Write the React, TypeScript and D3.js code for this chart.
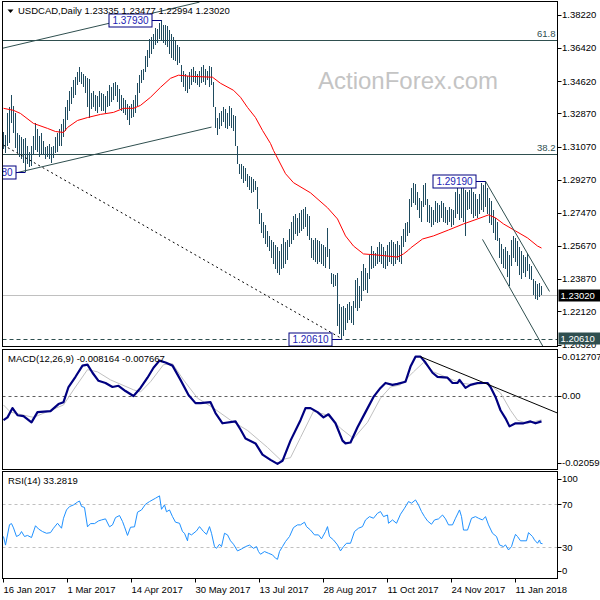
import React from "react";
import * as d3 from "d3";

// ---------- DATA ----------
const highs = [
  1.3185, 1.3170, 1.3290, 1.3320, 1.3386, 1.3330, 1.3290, 1.3180, 1.3170, 1.3160,
  1.3150, 1.3155, 1.3110, 1.3080, 1.3110, 1.3165, 1.3235, 1.3200, 1.3165, 1.3180,
  1.3140, 1.3105, 1.3110, 1.3120, 1.3105, 1.3110, 1.3160, 1.3180, 1.3200, 1.3230,
  1.3255, 1.3320, 1.3360, 1.3410, 1.3430, 1.3470, 1.3485, 1.3510, 1.3538, 1.3515,
  1.3500, 1.3490, 1.3480, 1.3475, 1.3400, 1.3410, 1.3390, 1.3380, 1.3410, 1.3400,
  1.3395, 1.3380, 1.3410, 1.3440, 1.3430, 1.3450, 1.3456, 1.3440, 1.3420, 1.3390,
  1.3370, 1.3360, 1.3340, 1.3330, 1.3340, 1.3360, 1.3390, 1.3450, 1.3495, 1.3522,
  1.3530, 1.3600, 1.3631, 1.3690, 1.3705, 1.3720, 1.3750, 1.3745, 1.3780, 1.3793,
  1.3770, 1.3765, 1.3760, 1.3740, 1.3720, 1.3700, 1.3680, 1.3660, 1.3650, 1.3550,
  1.3520, 1.3500, 1.3490, 1.3510, 1.3530, 1.3540, 1.3520, 1.3500, 1.3520, 1.3540,
  1.3550, 1.3530, 1.3520, 1.3545, 1.3540, 1.3456, 1.3320, 1.3265, 1.3290, 1.3300,
  1.3320, 1.3310, 1.3290, 1.3330, 1.3315, 1.3280, 1.3276, 1.3110, 1.3015, 1.3010,
  1.3000, 1.2990, 1.2960, 1.2950, 1.2940, 1.2930, 1.2920, 1.2890, 1.2769, 1.2747,
  1.2700, 1.2680, 1.2649, 1.2620, 1.2600, 1.2590, 1.2570, 1.2560, 1.2540, 1.2580,
  1.2610, 1.2590, 1.2600, 1.2660, 1.2700, 1.2730, 1.2740, 1.2720, 1.2745, 1.2760,
  1.2770, 1.2780, 1.2740, 1.2730, 1.2610, 1.2600, 1.2610, 1.2600, 1.2595, 1.2580,
  1.2570, 1.2560, 1.2665, 1.2550, 1.2420, 1.2415, 1.2410, 1.2420, 1.2250, 1.2235,
  1.2240, 1.2230, 1.2250, 1.2265, 1.2240, 1.2270, 1.2380, 1.2395, 1.2350, 1.2430,
  1.2470, 1.2450, 1.2420, 1.2520, 1.2567, 1.2540, 1.2530, 1.2560, 1.2590, 1.2580,
  1.2560, 1.2540, 1.2570, 1.2590, 1.2600, 1.2590, 1.2580, 1.2595, 1.2570, 1.2622,
  1.2660, 1.2690, 1.2700, 1.2824, 1.2880, 1.2911, 1.2905, 1.2860, 1.2830, 1.2810,
  1.2900, 1.2911, 1.2820, 1.2790, 1.2780, 1.2760, 1.2810, 1.2800, 1.2790, 1.2810,
  1.2800, 1.2780, 1.2760, 1.2780, 1.2770, 1.2760, 1.2860, 1.2884, 1.2850, 1.2880,
  1.2895, 1.2870, 1.2860, 1.2870, 1.2880, 1.2860, 1.2850, 1.2820, 1.2850, 1.2911,
  1.2900, 1.2919, 1.2880, 1.2830, 1.2810, 1.2760, 1.2720, 1.2700, 1.2610, 1.2580,
  1.2551, 1.2560, 1.2540, 1.2520, 1.2600, 1.2622, 1.2610, 1.2595, 1.2560, 1.2540,
  1.2520, 1.2510, 1.2530, 1.2470, 1.2460, 1.2390, 1.2375, 1.2360, 1.2365, 1.2348,
];

const lows = [
  1.3095, 1.3075, 1.3110, 1.3125, 1.3233, 1.3180, 1.3100, 1.3070, 1.3050, 1.3040,
  1.3020, 1.2968, 1.3010, 1.2995, 1.3000, 1.3060, 1.3090, 1.3080, 1.3050, 1.3060,
  1.3060, 1.3040, 1.3050, 1.3040, 1.3020, 1.3045, 1.3070, 1.3080, 1.3110, 1.3110,
  1.3160, 1.3190, 1.3250, 1.3300, 1.3340, 1.3370, 1.3390, 1.3440, 1.3460, 1.3445,
  1.3430, 1.3400, 1.3320, 1.3265, 1.3310, 1.3320, 1.3300, 1.3290, 1.3320, 1.3300,
  1.3300, 1.3290, 1.3320, 1.3330, 1.3350, 1.3360, 1.3380, 1.3350, 1.3310, 1.3300,
  1.3290, 1.3280, 1.3250, 1.3222, 1.3260, 1.3270, 1.3290, 1.3330, 1.3400, 1.3450,
  1.3470, 1.3510, 1.3540, 1.3590, 1.3610, 1.3640, 1.3660, 1.3670, 1.3690, 1.3680,
  1.3670, 1.3660, 1.3650, 1.3610, 1.3590, 1.3577, 1.3570, 1.3550, 1.3560, 1.3456,
  1.3430, 1.3410, 1.3400, 1.3420, 1.3440, 1.3460, 1.3450, 1.3440, 1.3430, 1.3450,
  1.3460, 1.3440, 1.3470, 1.3430, 1.3440, 1.3320, 1.3210, 1.3170, 1.3200, 1.3220,
  1.3240, 1.3210, 1.3200, 1.3220, 1.3210, 1.3190, 1.3110, 1.3015, 1.2960, 1.2930,
  1.2910, 1.2920, 1.2890, 1.2870, 1.2856, 1.2860, 1.2870, 1.2770, 1.2687, 1.2640,
  1.2610, 1.2580, 1.2560, 1.2540, 1.2500, 1.2470, 1.2440, 1.2420, 1.2410, 1.2440,
  1.2450, 1.2470, 1.2490, 1.2560, 1.2580, 1.2600, 1.2630, 1.2620, 1.2640, 1.2650,
  1.2660, 1.2670, 1.2620, 1.2600, 1.2500, 1.2490, 1.2480, 1.2470, 1.2480, 1.2470,
  1.2460, 1.2450, 1.2510, 1.2440, 1.2360, 1.2345, 1.2350, 1.2131, 1.2090, 1.2061,
  1.2080, 1.2110, 1.2150, 1.2165, 1.2150, 1.2140, 1.2230, 1.2215, 1.2230, 1.2270,
  1.2320, 1.2330, 1.2310, 1.2390, 1.2440, 1.2450, 1.2460, 1.2470, 1.2480, 1.2470,
  1.2450, 1.2440, 1.2460, 1.2480, 1.2470, 1.2460, 1.2470, 1.2490, 1.2480, 1.2470,
  1.2560, 1.2590, 1.2620, 1.2640, 1.2780, 1.2800, 1.2790, 1.2760, 1.2720, 1.2700,
  1.2780, 1.2790, 1.2700, 1.2690, 1.2670, 1.2680, 1.2700, 1.2690, 1.2700, 1.2720,
  1.2700, 1.2690, 1.2680, 1.2700, 1.2670, 1.2680, 1.2720, 1.2740, 1.2710, 1.2720,
  1.2700, 1.2622, 1.2760, 1.2770, 1.2740, 1.2720, 1.2730, 1.2720, 1.2740, 1.2760,
  1.2750, 1.2780, 1.2740, 1.2690, 1.2680, 1.2640, 1.2600, 1.2595, 1.2500, 1.2470,
  1.2450, 1.2440, 1.2400, 1.2350, 1.2460, 1.2500, 1.2480, 1.2460, 1.2410, 1.2390,
  1.2420, 1.2400, 1.2430, 1.2390, 1.2380, 1.2300, 1.2280, 1.2275, 1.2290, 1.2299,
];

const dateLabels = ["16 Jan 2017", "1 Mar 2017", "14 Apr 2017", "30 May 2017", "13 Jul 2017",
  "28 Aug 2017", "11 Oct 2017", "24 Nov 2017", "11 Jan 2018"];
const dateIndex = [0, 32, 64, 96, 128, 160, 192, 224, 256];

const priceTicks = [1.3822, 1.3642, 1.3462, 1.3287, 1.3107, 1.2927, 1.2747, 1.2567, 1.2387, 1.2212, 1.2032];

// moving average (red) [barIndex, price]
const maPoints: [number, number][] = [
  [0, 1.3315], [5, 1.3304], [8.5, 1.3287], [15, 1.3233], [22, 1.3206], [26, 1.3189], [30, 1.3184],
  [32, 1.3211], [37, 1.3249], [42, 1.3265], [48.5, 1.3282], [55, 1.3293], [60, 1.3315], [65, 1.3315],
  [68.5, 1.3331], [73.5, 1.3375], [78.5, 1.3429], [83.5, 1.3478], [87.5, 1.3495], [93.5, 1.3489],
  [104.5, 1.3484], [108.5, 1.3451], [115, 1.3413], [118.5, 1.3375], [122, 1.3320], [126, 1.3265],
  [129.5, 1.3195], [133.5, 1.3124], [135, 1.3086], [141, 1.2960], [145, 1.2911], [153.5, 1.2856],
  [162, 1.2775], [167, 1.2714], [171, 1.2622], [175, 1.2567], [180, 1.2524], [187, 1.2518],
  [197, 1.2507], [200, 1.2524], [202.5, 1.2545], [203.5, 1.2556], [209.5, 1.2605], [215, 1.2622],
  [222.5, 1.2654], [230, 1.2687], [237, 1.2714], [242.5, 1.2736], [246, 1.2720], [250, 1.2687],
  [256, 1.2649], [262, 1.2611], [267, 1.2567], [269, 1.2556],
];

const macdPoints: [number, number][] = [
  [0, -0.0078], [2, -0.0069], [4.5, -0.0039], [7, -0.0062], [10, -0.0065], [14, -0.0085], [17, -0.0052],
  [23.5, -0.0049], [27.5, -0.0026], [30, -0.0020], [32.5, 0.0029], [36, 0.0062], [39.5, 0.0098],
  [42, 0.0101], [44.5, 0.0075], [47.5, 0.0049], [51, 0.0042], [54.5, 0.0029], [57.5, 0.0033],
  [61, 0.0016], [65, 0.0000], [68.5, 0.0026], [72, 0.0059], [75, 0.0091], [78, 0.0114], [81, 0.0108],
  [84.5, 0.0098], [88.5, 0.0052], [92.5, 0.0003], [96, -0.0023], [98.5, -0.0023], [103.5, -0.0020],
  [106, -0.0055], [109.5, -0.0088], [116, -0.0082], [118.5, -0.0108], [121, -0.0137], [126, -0.0153],
  [129.5, -0.0189], [133.5, -0.0206], [137, -0.0219], [139.5, -0.0209], [143.5, -0.0144],
  [148.5, -0.0078], [151, -0.0039], [153.5, -0.0039], [157, -0.0052], [160, -0.0069], [162.5, -0.0059],
  [166, -0.0088], [169.5, -0.0144], [171, -0.0153], [173.5, -0.0150], [177, -0.0101], [181, -0.0052],
  [185, -0.0003], [188.5, 0.0026], [191, 0.0042], [194.5, 0.0036], [197, 0.0039], [201, 0.0046],
  [203.5, 0.0095], [206, 0.0127], [208.5, 0.0127], [211, 0.0108], [214.5, 0.0075], [217, 0.0062],
  [222, 0.0059], [224.5, 0.0042], [227, 0.0042], [228, 0.0052], [231, 0.0026], [233.5, 0.0036],
  [237, 0.0042], [242, 0.0042], [243.5, 0.0029], [246, -0.0003], [248.5, -0.0046], [251, -0.0072],
  [253, -0.0098], [256, -0.0088], [260, -0.0088], [263.5, -0.0082], [266, -0.0088], [269, -0.0082],
];

const signalPoints: [number, number][] = [
  [0, -0.0029], [3.5, -0.0052], [15, -0.0069], [30, -0.0029], [35, 0.0020], [42, 0.0085], [47, 0.0078],
  [53.5, 0.0052], [65, 0.0020], [68.5, 0.0013], [73.5, 0.0046], [80, 0.0101], [84.5, 0.0104],
  [90, 0.0052], [97, -0.0007], [105, -0.0039], [113.5, -0.0078], [122, -0.0111], [132, -0.0166],
  [138.5, -0.0206], [143.5, -0.0199], [148.5, -0.0134], [155, -0.0049], [162, -0.0062], [168.5, -0.0104],
  [175, -0.0137], [182, -0.0085], [188.5, -0.0007], [193.5, 0.0029], [198.5, 0.0036], [205, 0.0078],
  [210, 0.0108], [215, 0.0078], [222, 0.0059], [228.5, 0.0042], [235, 0.0036], [242, 0.0042],
  [248.5, 0.0010], [253.5, -0.0046], [257, -0.0078], [262, -0.0088], [269, -0.0077],
];

const rsiPoints: [number, number][] = [
  [0, 40], [1, 32], [3, 51], [4, 52], [5, 48], [6.5, 40], [8, 41.5], [9, 44.6], [10.5, 40], [12, 41],
  [14, 39], [16, 50], [17.5, 47], [19.5, 44.6], [21.5, 43], [23.5, 43.6], [25, 47.7], [27, 52.3],
  [29, 47.7], [30, 57], [31.5, 64.7], [33, 67.8], [35, 69.4], [37, 72], [38, 73], [39, 68], [40.5, 67],
  [42, 49], [43.5, 52], [45.5, 52], [47.5, 54.5], [49, 55.4], [51, 56.4], [53, 49], [54.5, 50.8],
  [56, 57.6], [58, 59.5], [59.5, 54], [60.5, 49], [62, 41], [63.5, 48.6], [65.5, 49], [67, 62.6],
  [69, 64.7], [71, 70], [73, 72.5], [76, 75.6], [78, 77.8], [79, 65.3], [80.5, 69.4], [81.5, 63],
  [83, 64.7], [84.5, 58.5], [86, 53.3], [88, 52.3], [89.5, 44.6], [90.5, 43], [92, 36], [92.5, 43],
  [94, 41.5], [96.5, 45.2], [98, 49.2], [100, 44.6], [101.5, 42], [103, 49.2], [104, 43], [105.5, 30.6],
  [106.5, 29], [108, 32.8], [109, 30.6], [110.5, 43], [112, 41.5], [113.5, 36], [115, 32.8], [117, 26.6],
  [119, 28.4], [121, 30.6], [123, 32], [125, 29], [126.5, 30.6], [127.5, 26], [128.5, 23.5], [130.5, 26],
  [132.5, 24.4], [134.5, 22.9], [136, 19.8], [137, 18.8], [138, 26], [139.5, 30.6], [141, 35.3],
  [143, 40], [145, 48.3], [147, 50.8], [148.5, 50.8], [150.5, 53.3], [151.5, 49.2], [153.5, 46],
  [155.5, 41.5], [157.5, 41.5], [159, 37.8], [161, 44.6], [162, 49.2], [163, 40], [165, 36.8],
  [167, 32.2], [168.5, 26.6], [170, 30.6], [171.5, 33.7], [173.5, 33.7], [175.5, 44.6], [177.5, 47.7],
  [179.5, 49.2], [181, 55.4], [183, 58.5], [185, 57], [187, 61.6], [188.5, 63.2], [190, 58.5], [192, 60],
  [192.5, 52.3], [194.5, 55.4], [196.5, 52.3], [198.5, 60.7], [200.5, 66.3], [202.5, 72.5], [204, 71],
  [206, 74], [207.5, 69.4], [209, 63.2], [210.5, 58.5], [212, 54.5], [214, 51.4], [215.5, 55.4],
  [217.5, 56.4], [219.5, 60], [221, 56.4], [222.5, 50.8], [224.5, 50.8], [226, 57], [228, 64.7],
  [229, 58.5], [230, 46], [232, 46], [234, 57], [236, 58.5], [237.5, 57], [239.5, 55.4], [241, 58.5],
  [242.5, 50.8], [244.5, 43], [246.5, 40], [248, 32.2], [250, 30.6], [251, 32.2], [252.5, 27.5],
  [254, 30.6], [255, 36.8], [256, 42], [257, 40], [258.5, 36], [261.5, 36], [262.5, 43.6], [264.5, 40],
  [265.5, 36.8], [267, 33.7], [268, 36.8], [268.5, 33.7], [269.5, 33.3],
];

const fibValues = [1.36857, 1.30653];
const fibLabels = ["61.8", "38.2"];

// drawn trend lines [[barIndex, price], [barIndex, price]]
const channelUpper: [number, number][] = [[-1, 1.3640], [98, 1.3892]];
const channelLower: [number, number][] = [[6.5, 1.2965], [104, 1.3213]];
const dottedLine: [number, number][] = [[0, 1.3115], [168.5, 1.2068]];
const fallUpper: [number, number][] = [[241, 1.2919], [273, 1.2320]];
const fallLower: [number, number][] = [[239.5, 1.2603], [270, 1.2016]];
const macdTrend: [number, number][] = [[208.5, 0.0127], [277, -0.0055]];

const pivotIndex = [79, 241, 169, 11];
const pivotPrice = [1.3793, 1.2919, 1.2061, 1.2968];
const pivotText = ["1.37930", "1.29190", "1.20610", "1.29680"];

const lastPrice = 1.2302;
const lowLine = 1.2061;

// ---------- CHART ----------
const FONT = "'Liberation Sans', Arial, sans-serif";
const FS = 9.5;
const BAR = "#1f4b5f";
const SLATE = "#2f4f4f";

export default function App() {
  const L = 2.5, R = 557.5;
  const M = { top: 1.5, bottom: 346.5 };
  const D = { top: 349.5, bottom: 469.5 };
  const S = { top: 471.5, bottom: 578.5 };

  const x = d3.scaleLinear().domain([0, 1]).range([3.5, 5.5]);
  const yP = d3.scaleLinear().domain([1.2032, 1.3822]).range([344.5, 15]);
  const yM = d3.scaleLinear().domain([0, 0.01]).range([396, 365]);
  const yR = d3.scaleLinear().domain([0, 100]).range([579.5, 472]);

  const priceLine = d3.line<[number, number]>().x((d) => x(d[0])).y((d) => yP(d[1]));
  const macdLine = d3.line<[number, number]>().x((d) => x(d[0])).y((d) => yM(d[1]));
  const rsiLine = d3.line<[number, number]>().x((d) => x(d[0])).y((d) => yR(d[1]));

  const axisText = (y: number, t: string, key: string) => (
    <g key={key}>
      <line x1={R} x2={R + 4} y1={Math.round(y) + 0.5} y2={Math.round(y) + 0.5} stroke="#000" />
      <text x={R + 4.5} y={y} dy="0.35em" fontSize={FS} fontFamily={FONT} fill="#000">{t}</text>
    </g>
  );

  return (
    <svg width={600} height={600} style={{ position: "fixed", left: 0, top: 0, background: "#fff" }}>
      <defs>
        <clipPath id="cm"><rect x={L} y={M.top} width={R - L} height={M.bottom - M.top} /></clipPath>
        <clipPath id="cd"><rect x={L} y={D.top} width={R - L} height={D.bottom - D.top} /></clipPath>
        <clipPath id="cr"><rect x={L} y={S.top} width={R - L} height={S.bottom - S.top} /></clipPath>
      </defs>
      <rect x={0} y={0} width={600} height={600} fill="#fff" />

      {/* ===== MAIN PANEL ===== */}
      <g clipPath="url(#cm)">
        <text x={318} y={89} fontSize={24} fontFamily={FONT} fill="#c4c4c4">ActionForex.com</text>
        {fibValues.map((v, i) => (
          <g key={"fib" + i}>
            <line x1={L} x2={R} y1={Math.round(yP(v)) + 0.5} y2={Math.round(yP(v)) + 0.5} stroke={SLATE} />
            <text x={R - 2} y={yP(v) - 3} textAnchor="end" fontSize={FS} fontFamily={FONT} fill={SLATE}>{fibLabels[i]}</text>
          </g>
        ))}
        <line x1={L} x2={R} y1={Math.round(yP(lastPrice)) + 0.5} y2={Math.round(yP(lastPrice)) + 0.5} stroke="#c0c0c0" />
        <line x1={L} x2={R} y1={Math.round(yP(lowLine)) + 0.5} y2={Math.round(yP(lowLine)) + 0.5} stroke={SLATE} strokeDasharray="4,3" />
        {highs.map((h, i) => (
          <line key={"b" + i} x1={x(i)} x2={x(i)} y1={yP(h)} y2={yP(lows[i])} stroke={BAR} strokeWidth={1} shapeRendering="crispEdges" />
        ))}
        <path d={priceLine(maPoints) || ""} fill="none" stroke="#ff0000" strokeWidth={1} />
        <path d={priceLine(channelUpper) || ""} fill="none" stroke={SLATE} strokeWidth={1} />
        <path d={priceLine(channelLower) || ""} fill="none" stroke={SLATE} strokeWidth={1} />
        <path d={priceLine(fallUpper) || ""} fill="none" stroke={SLATE} strokeWidth={1} />
        <path d={priceLine(fallLower) || ""} fill="none" stroke={SLATE} strokeWidth={1} />
        <path d={priceLine(dottedLine) || ""} fill="none" stroke="#000" strokeWidth={1} strokeDasharray="2,3" />
        {pivotIndex.map((pi, i) => {
          const bx = x(pi) - 9.5;
          const cy = Math.round(yP(pivotPrice[i])) + 0.5;
          const w = 43;
          return (
            <g key={"pv" + i}>
              <line x1={bx} x2={x(pi)} y1={cy} y2={cy} stroke="#000080" />
              <rect x={bx - w} y={cy - 6.5} width={w} height={13} fill="#fff" stroke="#000080" />
              <text x={bx - w / 2} y={cy} dy="0.36em" textAnchor="middle" fontSize={10} fontFamily={FONT} fill="#1c1cb4">{pivotText[i]}</text>
            </g>
          );
        })}
      </g>
      <g>
        <path d="M7.5,9.5 L13.5,9.5 L10.5,13 Z" fill="#000" />
        <text x={18} y={14} fontSize={FS} fontFamily={FONT} fill="#000">USDCAD,Daily  1.23335 1.23477 1.22994 1.23020</text>
      </g>
      <rect x={L} y={M.top} width={R - L} height={M.bottom - M.top} fill="none" stroke="#000" />
      {priceTicks.map((p, i) => axisText(yP(p), p.toFixed(5), "pt" + i))}
      <rect x={R + 1} y={Math.round(yP(lastPrice)) - 5.5} width={42} height={12} fill="#000" />
      <text x={R + 3} y={Math.round(yP(lastPrice)) + 0.5} dy="0.36em" fontSize={FS} fontFamily={FONT} fill="#fff">1.23020</text>
      <rect x={R + 1} y={Math.round(yP(lowLine)) - 6.5} width={42} height={12} fill={SLATE} />
      <text x={R + 3} y={Math.round(yP(lowLine)) - 0.5} dy="0.36em" fontSize={FS} fontFamily={FONT} fill="#fff">1.20610</text>

      {/* ===== MACD PANEL ===== */}
      <g clipPath="url(#cd)">
        <line x1={L} x2={R} y1={Math.round(yM(0)) + 0.5} y2={Math.round(yM(0)) + 0.5} stroke="#606060" strokeDasharray="3,3" />
        <path d={macdLine(signalPoints) || ""} fill="none" stroke="#c0c0c0" strokeWidth={1} />
        <path d={macdLine(macdPoints) || ""} fill="none" stroke="#000080" strokeWidth={2.2} strokeLinejoin="round" />
        <path d={macdLine(macdTrend) || ""} fill="none" stroke="#000" strokeWidth={1} />
        <text x={8} y={362} fontSize={FS} fontFamily={FONT} fill="#000">MACD(12,26,9) -0.008164 -0.007667</text>
      </g>
      <rect x={L} y={D.top} width={R - L} height={D.bottom - D.top} fill="none" stroke="#000" />
      {axisText(357, "0.012707", "m1")}
      {axisText(yM(0), "0.00", "m2")}
      {axisText(463, "-0.020595", "m3")}

      {/* ===== RSI PANEL ===== */}
      <g clipPath="url(#cr)">
        {[70, 30].map((v) => (
          <line key={"rl" + v} x1={L} x2={R} y1={Math.round(yR(v)) + 0.5} y2={Math.round(yR(v)) + 0.5} stroke="#c0c0c0" strokeDasharray="3,3" />
        ))}
        <path d={rsiLine(rsiPoints) || ""} fill="none" stroke="#1e90ff" strokeWidth={1} />
        <text x={8} y={484} fontSize={FS} fontFamily={FONT} fill="#000">RSI(14) 33.2819</text>
      </g>
      <rect x={L} y={S.top} width={R - L} height={S.bottom - S.top} fill="none" stroke="#000" />
      {axisText(479, "100", "r1")}
      {axisText(yR(70), "70", "r2")}
      {axisText(yR(30), "30", "r3")}
      {axisText(571, "0", "r4")}

      {/* ===== DATE AXIS ===== */}
      {dateIndex.map((di, i) => (
        <g key={"d" + i}>
          <line x1={x(di)} x2={x(di)} y1={S.bottom} y2={S.bottom + 4} stroke="#000" />
          <text x={x(di)} y={593} fontSize={FS} fontFamily={FONT} fill="#000">{dateLabels[i]}</text>
        </g>
      ))}
    </svg>
  );
}
